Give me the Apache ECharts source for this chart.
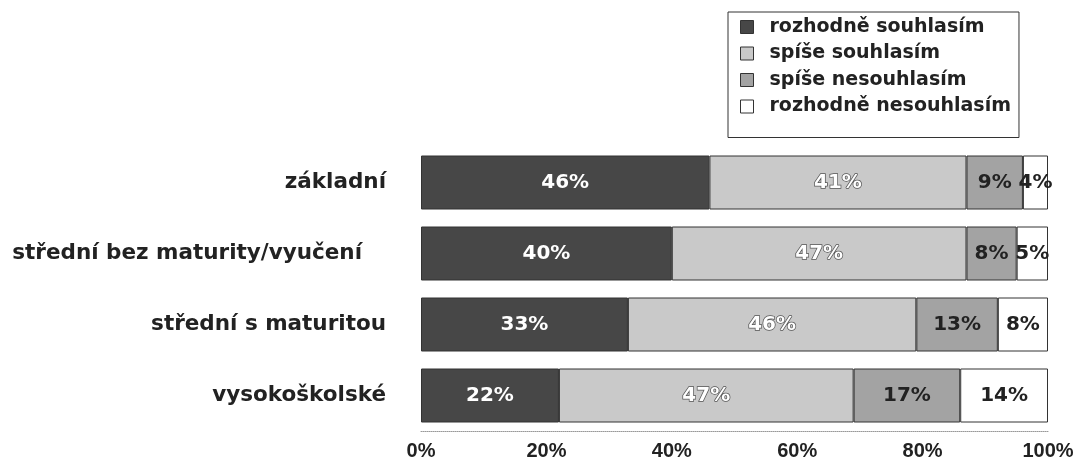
<!DOCTYPE html>
<html><head><meta charset="utf-8">
<script src="https://cdn.jsdelivr.net/npm/echarts@6/dist/echarts.min.js"></script>
<style>html,body{margin:0;padding:0;background:#fff}#c{width:1073px;height:457px}</style>
</head><body><div id="c"></div>
<script>
const categories = ['základní', 'střední bez maturity/vyučení', 'střední s maturitou', 'vysokoškolské'];
const seriesNames = ['rozhodně souhlasím', 'spíše souhlasím', 'spíše nesouhlasím', 'rozhodně nesouhlasím'];
const rozhodneSouhlasim = [46, 40, 33, 22];
const spiseSouhlasim = [41, 47, 46, 47];
const spiseNesouhlasim = [9, 8, 13, 17];
const rozhodneNesouhlasim = [4, 5, 8, 14];
const tickValues = [0, 20, 40, 60, 80, 100];

const FONT = 'Liberation Sans, Arial, sans-serif';
const WIDE = 'DejaVu Sans, sans-serif';
const colors = ['#474747', '#c9c9c9', '#a3a3a3', '#ffffff'];
const labelStyles = [
  {color: '#ffffff'},
  {color: '#ffffff', textBorderColor: '#555', textBorderWidth: 1.5},
  {color: '#222222'},
  {color: '#222222'}
];
const dataSets = [rozhodneSouhlasim, spiseSouhlasim, spiseNesouhlasim, rozhodneNesouhlasim];

const chart = echarts.init(document.getElementById('c'), null, {renderer: 'canvas'});
chart.setOption({
  animation: false,
  backgroundColor: '#fff',
  textStyle: {fontFamily: FONT},
  legend: {
    orient: 'vertical',
    left: 728, top: 12,
    padding: [5, 8, 21, 12],
    borderColor: '#333', borderWidth: 1,
    itemWidth: 13, itemHeight: 13, itemGap: 6.5,
    icon: 'rect',
    itemStyle: {borderColor: '#333', borderWidth: 1},
    textStyle: {fontFamily: WIDE, fontSize: 19, fontWeight: 'bold', color: '#222', lineHeight: 20, padding: [0, 0, 0, 11]},
    data: seriesNames
  },
  grid: {left: 421, right: 25, top: 147, height: 284, outerBoundsMode: 'none', containLabel: false},
  xAxis: {
    type: 'value', min: 0, max: 100, interval: 20,
    axisLine: {show: true, lineStyle: {color: '#999', type: 'dotted', width: 1}},
    axisTick: {show: false},
    splitLine: {show: false},
    axisLabel: {
      customValues: tickValues,
      formatter: v => v + '%', margin: 10,
      fontFamily: FONT, fontSize: 20, fontWeight: 'bold', color: '#222'
    }
  },
  yAxis: {
    type: 'category', data: categories, inverse: true,
    axisLine: {show: false}, axisTick: {show: false},
    axisLabel: {
      margin: 35,
      fontFamily: WIDE, fontSize: 21.5, fontWeight: 'bold', color: '#222',
      formatter: (v, i) => i === 1 ? '{b|' + v + '}' : v,
      rich: {b: {fontFamily: WIDE, fontSize: 21.5, fontWeight: 'bold', color: '#222', padding: [0, 24, 0, 0]}}
    }
  },
  series: dataSets.map((d, i) => ({
    name: seriesNames[i],
    type: 'bar', stack: 'total', barWidth: 54,
    data: d,
    itemStyle: {color: colors[i], borderColor: '#333', borderWidth: 1},
    label: Object.assign({
      show: true, position: 'inside', formatter: '{c}%',
      fontFamily: WIDE, fontSize: 20, fontWeight: 'bold'
    }, labelStyles[i])
  }))
});
</script></body></html>
